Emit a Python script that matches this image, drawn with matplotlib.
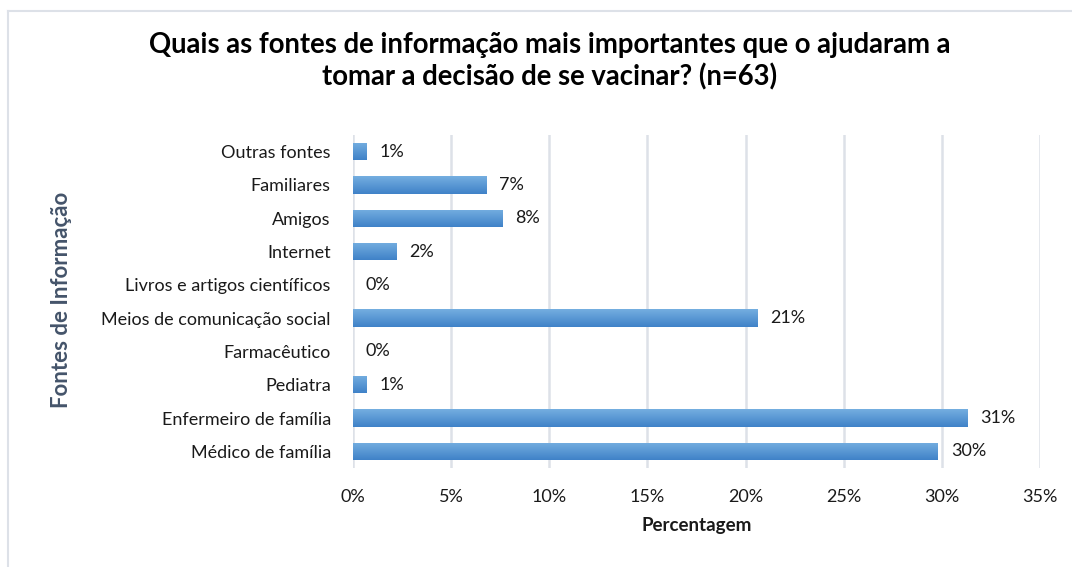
import numpy as np
import matplotlib.pyplot as plt
from matplotlib.lines import Line2D
from matplotlib.colors import LinearSegmentedColormap

# data, top to bottom
fontes = ['Outras fontes', 'Familiares', 'Amigos', 'Internet',
          'Livros e artigos científicos', 'Meios de comunicação social',
          'Farmacêutico', 'Pediatra', 'Enfermeiro de família', 'Médico de família']
pct = [0.7, 6.8, 7.6, 2.2, 0.0, 20.6, 0.0, 0.7, 31.3, 29.8]
xticks = [0, 5, 10, 15, 20, 25, 30, 35]

plt.rcParams['font.family'] = ['Lato', 'DejaVu Sans']

fig = plt.figure(figsize=(10.72, 5.67), dpi=100)
ax = fig.add_axes([353/1072, 1 - 468/567, (1040-353)/1072, (468-135)/567])

y = np.arange(len(fontes))
bars = ax.barh(y, pct, height=0.52, color='#5b9bd5', zorder=2)

# vertical gradient on each bar (lighter top, darker bottom)
grad = np.linspace(0, 1, 64).reshape(-1, 1)
cmap = LinearSegmentedColormap.from_list('bar', ['#3f82c8', '#75aee0'])
for b in bars:
    if b.get_width() <= 0:
        continue
    x0, y0 = b.get_x(), b.get_y()
    w, h = b.get_width(), b.get_height()
    im = ax.imshow(grad, cmap=cmap, aspect='auto', origin='lower',
                   extent=[x0, x0 + w, y0 + h, y0], zorder=3)
    im.set_clip_path(b)

for yi, v in zip(y, pct):
    ax.text(v + 0.65, yi, '%d%%' % round(v), va='center', ha='left',
            fontsize=13, color='#1a1a1a', zorder=4)

ax.set_xlim(0, 35)
ax.set_ylim(len(fontes) - 0.5, -0.5)
ax.set_xticks(xticks)
ax.set_xticklabels(['%d%%' % t for t in xticks], fontsize=13, color='#1a1a1a')
ax.set_yticks(y)
ax.set_yticklabels(fontes, fontsize=13, color='#1a1a1a')
ax.tick_params(length=0)
ax.tick_params(axis='y', pad=16)
ax.tick_params(axis='x', pad=15)
ax.grid(axis='x', color='#dde1e8', linewidth=1.8, zorder=0)
for s in ax.spines.values():
    s.set_visible(False)

ax.set_xlabel('Percentagem', fontsize=13.5, fontweight='bold', color='#1a1a1a', labelpad=9)
fig.text(62/1072, 1 - 300/567, 'Fontes de Informação', rotation=90, fontsize=16,
         fontweight='bold', color='#44546a', ha='center', va='center')

fig.text(550/1072, 1 - 61/567,
         'Quais as fontes de informação mais importantes que o ajudaram a\ntomar a decisão de se vacinar? (n=63)',
         ha='center', va='center', fontsize=19.8, fontweight='bold', color='#000000',
         linespacing=1.25)

# chart border (top and left visible)
fig.add_artist(Line2D([8/1072, 8/1072], [0, 1 - 11/567], transform=fig.transFigure,
                      color='#dde1e8', linewidth=1.5))
fig.add_artist(Line2D([8/1072, 1], [1 - 11/567, 1 - 11/567], transform=fig.transFigure,
                      color='#dde1e8', linewidth=1.5))

fig.savefig('out.png', dpi=100)
